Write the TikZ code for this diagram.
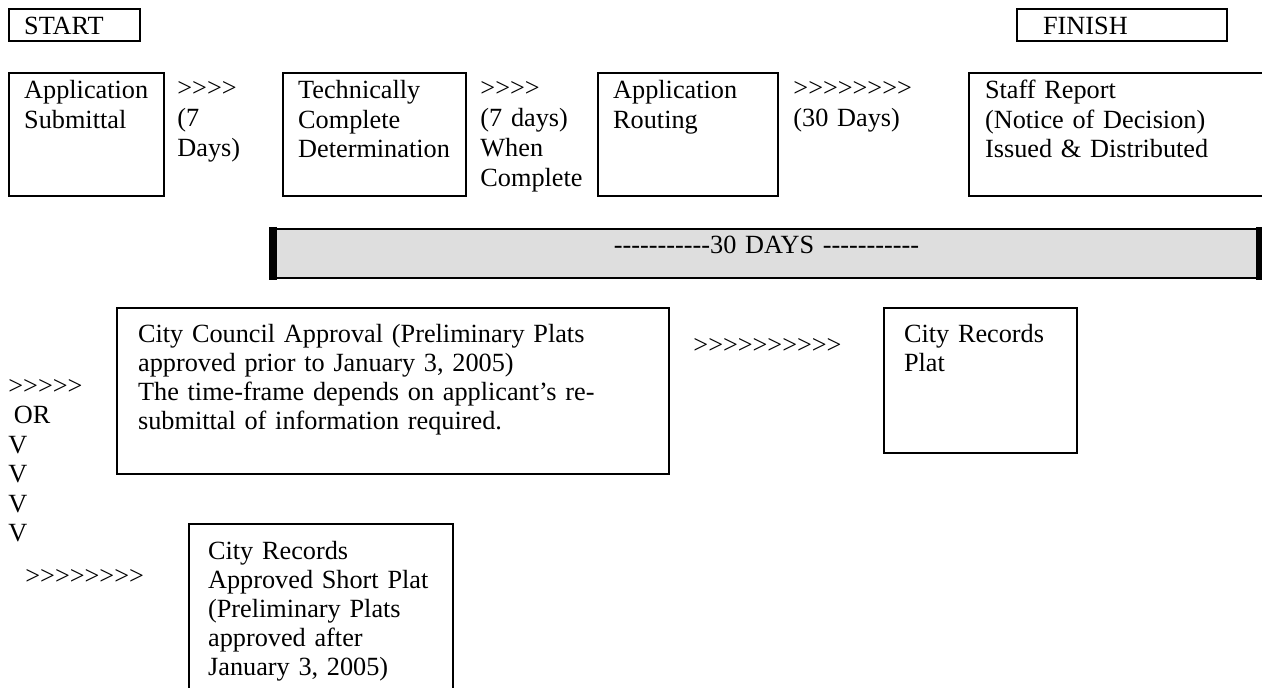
\documentclass[tikz,border=0pt]{standalone}
\usepackage{fontspec}
\setmainfont{Liberation Serif}
\usepackage{xcolor}
\usetikzlibrary{positioning}
\definecolor{ink}{HTML}{000000}
\definecolor{barbg}{HTML}{DEDEDE}
\newcommand{\bodyfnt}{\fontsize{12pt}{13.7pt}\selectfont}
\newcommand{\lowfnt}{\fontsize{12pt}{13.25pt}\selectfont}
\newcommand{\hyrun}{\foreach \k in {1,...,11}{-\kern0pt}}
\newcommand{\chev}[1]{\foreach \k in {1,...,#1}{>\kern0pt}}
\tikzset{
  box/.style={draw=ink, line width=1pt, anchor=north west, align=left, inner ysep=0pt, text=ink, font=\bodyfnt},
  lab/.style={anchor=base west, align=left, inner sep=0pt, text width=90pt, text=ink, font=\bodyfnt},
  bar/.style={draw=ink, line width=1pt, fill=barbg, anchor=north west, align=center, inner sep=0pt, text=ink, font=\bodyfnt},
  side/.style={draw=ink, line width=3.7pt, shorten <=-0.5pt, shorten >=-0.5pt},
}
\begin{document}
\begin{tikzpicture}[x=0.457pt, y=-0.457pt]
\useasboundingbox (0,0) rectangle (1262,688);
\clip (0,0) rectangle (1262,688);

% start / finish
\node[box, inner xsep=6.9pt, text width=46.1pt, text height=11.4pt, text depth=3.2pt] (start) at (8,8) {START};
\node[box, inner xsep=11.9pt, text width=72.2pt, text height=11.4pt, text depth=3.2pt] (finish) at (1016,8) {FINISH};

% top row
\node[box, inner xsep=6.9pt, text width=57pt, text height=11.4pt, text depth=44.8pt] (submit) at (8,72) {Application\\Submittal};
\node[lab] (wait1) at (177,97) {\chev{4}\\(7\\Days)};
\node[box, inner xsep=6.9pt, text width=69.8pt, text height=11.4pt, text depth=44.8pt] (techok) at (282,72) {Technically\\Complete\\Determination};
\node[lab] (wait2) at (480,97) {\chev{4}\\(7 days)\\When\\Complete};
\node[box, inner xsep=6.9pt, text width=68.5pt, text height=11.4pt, text depth=44.8pt] (routing) at (597,72) {Application\\Routing};
\node[lab] (wait3) at (793,97) {\chev{8}\\(30 Days)};
\node[box, inner xsep=7.3pt, text width=128pt, text height=11.4pt, text depth=44.8pt] (staff) at (968,72) {Staff Report\\(Notice of Decision)\\Issued \& Distributed};

% 30 day bar
\node[bar, text width=450.1pt, text height=11pt, text depth=11.4pt] (bar) at (273,228) {\hyrun30 DAYS \hyrun};
\draw[side] (bar.north west) -- (bar.south west);
\draw[side] (bar.north east) -- (bar.south east);

% council route
\node[box, inner xsep=9.6pt, text width=233.1pt, text height=15.6pt, text depth=60.3pt, font=\lowfnt] (council) at (116,307) {City Council Approval (Preliminary Plats\\approved prior to January 3, 2005)\\The time-frame depends on applicant’s re-\\submittal of information required.};
\node[lab] (wait4) at (693,353) {\chev{10}};
\node[box, inner xsep=9.1pt, text width=70pt, text height=15.8pt, text depth=50.5pt, font=\lowfnt] (plat) at (883,307) {City Records\\Plat};

% short plat route
\node[lab, text width=40pt, font=\fontsize{12pt}{13.5pt}\selectfont] (orcol) at (8,394) {\chev{5}\\\hspace*{2.5pt}OR\\V\\V\\V\\V};
\node[lab] (wait5) at (25,584) {\chev{8}};
\node[box, inner xsep=8.7pt, text width=103.2pt, text height=16pt, text depth=66.3pt, font=\lowfnt] (short) at (188,523) {City Records\\Approved Short Plat\\(Preliminary Plats\\approved after\\January 3, 2005)};
\end{tikzpicture}
\end{document}
